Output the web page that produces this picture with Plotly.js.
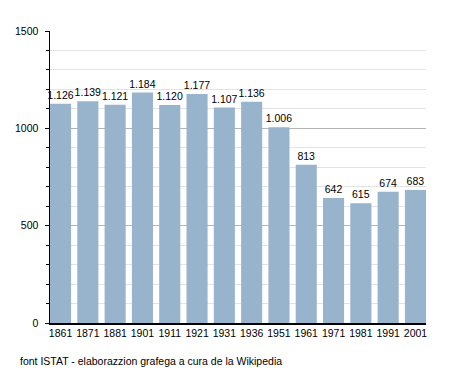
<!DOCTYPE html>
<html><head><meta charset="utf-8">
<script src="https://cdn.plot.ly/plotly-3.0.1.min.js"></script>
<style>body{margin:0;background:#fff}#c{width:455px;height:373px}</style>
</head><body><div id="c"></div>
<script>
const years = ["1861","1871","1881","1901","1911","1921","1931","1936","1951","1961","1971","1981","1991","2001"];
const population = [1126,1139,1121,1184,1120,1177,1107,1136,1006,813,642,615,674,683];
const valueLabels = ["1.126","1.139","1.121","1.184","1.120","1.177","1.107","1.136","1.006","813","642","615","674","683"];
const yTicks = [0,500,1000,1500];
const footer = "font ISTAT - elaborazzion grafega a cura de la Wikipedia";

const font = "Liberation Sans, Arial, sans-serif";
Plotly.newPlot("c", [{
  type: "bar", x: years, y: population, text: valueLabels,
  textposition: "outside", cliponaxis: false, constraintext: "none",
  textfont: {family: font, size: 10.5, color: "#000"},
  marker: {color: "#98b3cc"}, hoverinfo: "none"
}], {
  width: 455, height: 373,
  margin: {l: 50, r: 29, t: 31, b: 50},
  paper_bgcolor: "#fff", plot_bgcolor: "#fff",
  bargap: 0.228, showlegend: false,
  font: {family: font, size: 10.5, color: "#000"},
  xaxis: {type: "category", range: [-0.386, 13.386], showgrid: false, ticks: "",
          showline: true, linecolor: "#000", linewidth: 1.5, zeroline: false,
          tickfont: {family: font, size: 10.5}, fixedrange: true},
  yaxis: {range: [0, 1500], tickvals: yTicks, ticktext: yTicks.map(String),
          showline: true, linecolor: "#000", linewidth: 1.5,
          ticks: "outside", ticklen: 4, tickcolor: "#000", ticklabelstandoff: 4,
          showgrid: true, gridcolor: "#b4b4b4", gridwidth: 1, zeroline: false,
          minor: {dtick: 100, showgrid: true, gridcolor: "#e3e3e3", ticks: "outside", ticklen: 3, tickcolor: "#000"},
          tickfont: {family: font, size: 10.5}, fixedrange: true},
  annotations: [{text: footer, xref: "paper", yref: "paper", x: -0.085, y: -0.103,
                 xanchor: "left", yanchor: "top", showarrow: false,
                 font: {family: font, size: 10.5, color: "#000"}}]
}, {staticPlot: true});
</script></body></html>
